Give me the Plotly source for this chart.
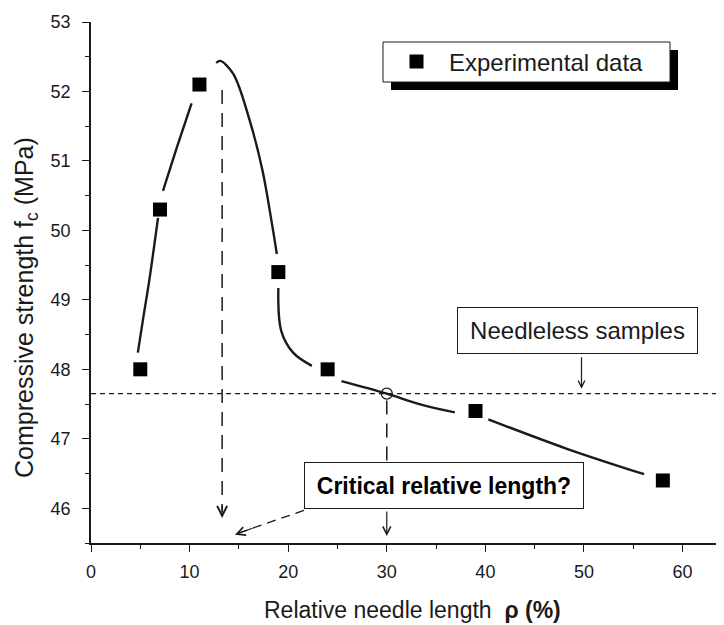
import plotly.graph_objects as go

# ---- data ----
exp_x = [5, 7, 11, 19, 24, 39, 58]
exp_y = [48.0, 50.3, 52.1, 49.4, 48.0, 47.4, 46.4]

# fitted curve as drawn (Origin style, broken around the markers)
curve_x = [4.75, 5.3, 5.9, 6.8, None,
           7.3, 8.7, 10.2, None,
           12.7, 13.1, 14.4, 16.1, 17.4, 18.3, 18.85, None,
           19.0, 19.3, 20.5, 22.4, None,
           25.4, 30.0, 33.3, 36.9, None,
           40.3, 48.2, 56.1]
curve_y = [48.24, 48.74, 49.27, 50.18, None,
           50.57, 51.19, 51.83, None,
           52.41, 52.44, 52.26, 51.58, 50.86, 50.14, 49.66, None,
           49.17, 48.55, 48.24, 48.05, None,
           47.83, 47.65, 47.5, 47.38, None,
           47.28, 46.86, 46.49]

needleless_strength = 47.65
critical_x = 30
peak_x = 13.3

x_ticks = [0, 10, 20, 30, 40, 50, 60]
y_ticks = [46, 47, 48, 49, 50, 51, 52, 53]

INK = "#1a1a1a"
FONT = "Liberation Sans, Arial, sans-serif"

fig = go.Figure()

fig.add_trace(go.Scatter(x=curve_x, y=curve_y, mode="lines",
                         line=dict(color=INK, width=2.4, shape="spline", smoothing=1.0),
                         connectgaps=False, showlegend=False, hoverinfo="skip"))
fig.add_trace(go.Scatter(x=exp_x, y=exp_y, mode="markers", name="Experimental data",
                         marker=dict(symbol="square", size=14, color="black")))
fig.add_trace(go.Scatter(x=[critical_x], y=[needleless_strength], mode="markers",
                         marker=dict(symbol="circle-open", size=11, color=INK,
                                     line=dict(width=1.2)),
                         showlegend=False))

# page body has an 8px margin; plot area on screen spans x 91..722, y 22..543
W, H = 724, 625
L, R, T, B = 83, 10, 14, 90
pw, ph = W - L - R, H - T - B
def px(xs): return (xs - 91) / pw
def py(ys): return (543 - ys) / ph

shapes = [
    dict(type="line", xref="paper", x0=0, x1=1, yref="y",
         y0=needleless_strength, y1=needleless_strength,
         line=dict(color=INK, width=1.3, dash="5px,4px")),
    dict(type="line", xref="x", yref="y", x0=peak_x, x1=peak_x, y0=52.02, y1=45.95,
         line=dict(color=INK, width=1.5, dash="14px,9px")),
    dict(type="line", xref="x", yref="y", x0=critical_x, x1=critical_x, y0=47.55, y1=46.3,
         line=dict(color=INK, width=1.5, dash="14px,9px")),
    dict(type="line", xref="x", yref="y", x0=21.6, x1=14.9, y0=45.97, y1=45.64,
         line=dict(color=INK, width=1.3, dash="9px,6px")),
    dict(type="rect", xref="paper", yref="paper", layer="above",
         x0=px(391), x1=px(678), y0=py(90), y1=py(50),
         fillcolor="black", line=dict(width=0)),
    dict(type="rect", xref="paper", yref="paper", layer="above",
         x0=px(383), x1=px(670), y0=py(82), y1=py(42),
         fillcolor="white", line=dict(color=INK, width=1)),
]

annotations = [
    dict(x=35.8, y=46.33, xref="x", yref="y", text="<b>Critical relative length?</b>",
         showarrow=False, font=dict(size=23, color="black", family=FONT),
         bgcolor="white", bordercolor=INK, borderwidth=1, width=268, height=35, borderpad=5),
    dict(x=49.34, y=48.56, xref="x", yref="y", text="Needleless samples",
         showarrow=False, font=dict(size=24, color=INK, family=FONT),
         bgcolor="white", bordercolor=INK, borderwidth=1, width=229, height=35, borderpad=5),
    dict(x=49.75, y=47.72, xref="x", yref="y", text="", showarrow=True,
         ax=0, ay=-33, arrowhead=5, arrowsize=1.1, arrowwidth=1.2, arrowcolor=INK),
    dict(x=critical_x, y=45.6, xref="x", yref="y", text="", showarrow=True,
         ax=0, ay=-26, arrowhead=5, arrowsize=1.3, arrowwidth=1.2, arrowcolor=INK),
    dict(x=peak_x, y=45.86, xref="x", yref="y", text="", showarrow=True,
         ax=0, ay=-14, arrowhead=5, arrowsize=1.5, arrowwidth=1.3, arrowcolor=INK),
    dict(x=14.6, y=45.62, xref="x", yref="y", text="", showarrow=True,
         ax=19, ay=-7, arrowhead=5, arrowsize=1.4, arrowwidth=1.2, arrowcolor=INK),
    # axis titles
    dict(xref="paper", yref="paper", x=px(412), y=py(610), xanchor="center", yanchor="middle",
         text="Relative needle length\u00a0\u00a0<b>\u03c1 (%)</b>", showarrow=False,
         font=dict(size=23, color=INK, family=FONT)),
    dict(xref="paper", yref="paper", x=px(26), y=py(308), xanchor="center", yanchor="middle",
         text="Compressive strength f<sub>c</sub> (MPa)", textangle=-90, showarrow=False,
         font=dict(size=25, color=INK, family=FONT)),
]

axis_common = dict(showline=True, linecolor=INK, linewidth=1.6, ticks="outside",
                   ticklen=7, tickwidth=1.4, tickcolor=INK, showgrid=False,
                   zeroline=False, mirror=False, automargin=False,
                   tickfont=dict(size=18, color=INK, family=FONT))

fig.update_layout(
    width=W, height=H,
    margin=dict(l=L, r=R, t=T, b=B, autoexpand=False),
    paper_bgcolor="white", plot_bgcolor="white",
    font=dict(family=FONT, color=INK),
    shapes=shapes, annotations=annotations,
    showlegend=True,
    legend=dict(x=px(384), y=py(62), xanchor="left", yanchor="middle",
                bgcolor="rgba(0,0,0,0)", borderwidth=0, itemwidth=55,
                font=dict(size=24, color=INK, family=FONT)),
    xaxis=dict(range=[0, 64.0], tickvals=x_ticks,
               minor=dict(dtick=5, tick0=0, ticks="outside", ticklen=4, tickwidth=1.2, tickcolor=INK),
               ticklabelstandoff=5, **axis_common),
    yaxis=dict(range=[45.5, 53], tickvals=y_ticks,
               minor=dict(dtick=0.5, tick0=45.5, ticks="outside", ticklen=4, tickwidth=1.2, tickcolor=INK),
               ticklabelstandoff=8, **axis_common),
)

fig.write_html("out.html")
